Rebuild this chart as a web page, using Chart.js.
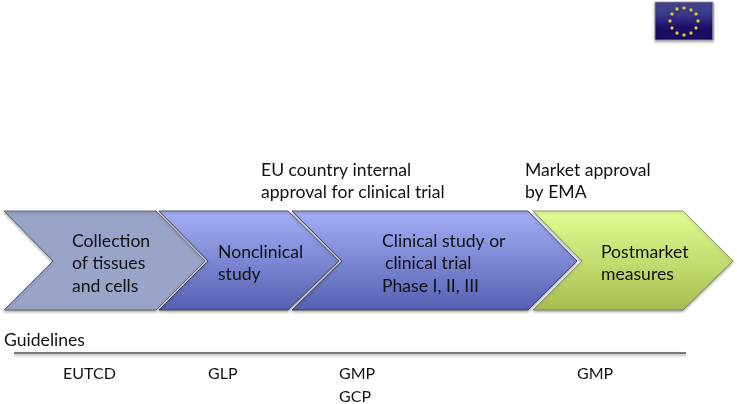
<!DOCTYPE html>
<html><head><meta charset="utf-8">
<style>html,body{margin:0;padding:0;background:#fff;overflow:hidden}canvas{display:block}</style>
<script src="https://cdn.jsdelivr.net/npm/chart.js@4"></script></head>
<body><canvas id="c" width="737" height="404"></canvas>
<script>
// Diagram outlines (in picture units)
const collectionX = [4,156,205,156,4,53,4];
const collectionY = [211,211,261,310,310,261,211];
const nonclinicalX = [159,288,339,288,159,208,159];
const nonclinicalY = [211,211,261,310,310,261,211];
const clinicalX = [292,528,577,528,292,342,292];
const clinicalY = [211,211,261,310,310,261,211];
const postmarketX = [533,683,733,683,533,582,533];
const postmarketY = [211,211,261,310,310,261,211];
const ruleX = [14,686];
const ruleY = [353,353];
const flagX = [655,713,713,655,655];
const flagY = [2,2,40,40,2];
const starX = [684,691,696,698,696,691,684,677,672,670,672,677];
const starY = [8,10,14,21,28,33,35,33,28,21,14,9];
// Text
const labelText = ["Collection","of tissues","and cells","Nonclinical","study","Clinical study or","clinical trial","Phase I, II, III","Postmarket","measures","EU country internal","approval for clinical trial","Market approval","by EMA","Guidelines","EUTCD","GLP","GMP","GCP","GMP"];
const labelX = [72,72,72,218,218,382,385,382,601,601,261,261,525,525,4,63,208,339,339,577];
const labelY = [241,263,286,252,274,241,263,286,252,274,170,192,170,192,340,374,374,374,397,374];

const pts = (xs, ys) => xs.map((x, i) => ({x, y: ys[i]}));
const grad = (stops, top, bottom) => (ctx) => {
  const ch = ctx.chart, s = ch.scales.y;
  if (!ch.chartArea || !s) return stops[0];
  const a = s.getPixelForValue(top), b = s.getPixelForValue(bottom);
  if (!isFinite(a) || !isFinite(b)) return stops[0];
  const g = ch.ctx.createLinearGradient(0, a, 0, b);
  stops.forEach((c, i) => g.addColorStop(i / (stops.length - 1), c));
  return g;
};
const shape = (xs, ys, fill, border) => ({
  type: 'scatter', showLine: true, data: pts(xs, ys), fill: 'shape',
  backgroundColor: fill, borderColor: border, borderWidth: 1,
  pointRadius: 0, tension: 0, clip: false
});
const textPlugin = {
  id: 'text',
  afterDatasetsDraw(chart) {
    const c = chart.ctx, sx = chart.scales.x, sy = chart.scales.y;
    c.save();
    c.fillStyle = '#111';
    c.textBaseline = 'middle';
    labelText.forEach((t, i) => {
      c.font = /^[A-Z]+$/.test(t) ? '16px Lato' : '17.6px Lato';
      c.fillText(t, sx.getPixelForValue(labelX[i]), sy.getPixelForValue(labelY[i]));
    });
    c.restore();
  }
};
const shadowPlugin = {
  id: 'shadow',
  beforeDatasetsDraw(chart) {
    const c = chart.ctx;
    c.save();
    c.shadowColor = 'rgba(0,0,0,0.35)';
    c.shadowBlur = 3;
    c.shadowOffsetX = 0;
    c.shadowOffsetY = 1.5;
  },
  afterDatasetsDraw(chart) { chart.ctx.restore(); }
};
const chart = new Chart(document.getElementById('c'), {
  type: 'scatter',
  data: { datasets: [
    { type: 'scatter', data: pts(starX, starY), pointStyle: 'circle', pointRadius: 1.7, pointBorderWidth: 0, backgroundColor: '#d8c93a', borderWidth: 0, clip: false },
    { type: 'scatter', showLine: true, data: pts(ruleX, ruleY), borderColor: '#7a7a7a', borderWidth: 2, pointRadius: 0, clip: false },
    shape(flagX, flagY, grad(['#46468f','#3a3a8a','#1c0e68','#1a0c60'], 2, 40), 'rgba(150,150,170,0.8)'),
    shape(collectionX, collectionY, grad(['#9aa3c8','#9aa3c8'], 211, 310), 'rgba(80,85,100,0.8)'),
    shape(nonclinicalX, nonclinicalY, grad(['#a4aff6','#5660b2'], 211, 310), 'rgba(50,50,70,0.8)'),
    shape(clinicalX, clinicalY, grad(['#a4aff6','#5660b2'], 211, 310), 'rgba(50,50,70,0.8)'),
    shape(postmarketX, postmarketY, grad(['#e2fd93','#a7bd50'], 211, 310), 'rgba(110,120,80,0.7)')
  ]},
  options: {
    responsive: false, animation: false, events: [],
    layout: { padding: 0, autoPadding: false },
    plugins: { legend: { display: false }, title: { display: false }, tooltip: { enabled: false } },
    scales: {
      x: { type: 'linear', display: false, min: 0, max: 737 },
      y: { type: 'linear', display: false, min: 0, max: 404, reverse: true }
    }
  },
  plugins: [shadowPlugin, textPlugin]
});
chart.update();
</script></body></html>
